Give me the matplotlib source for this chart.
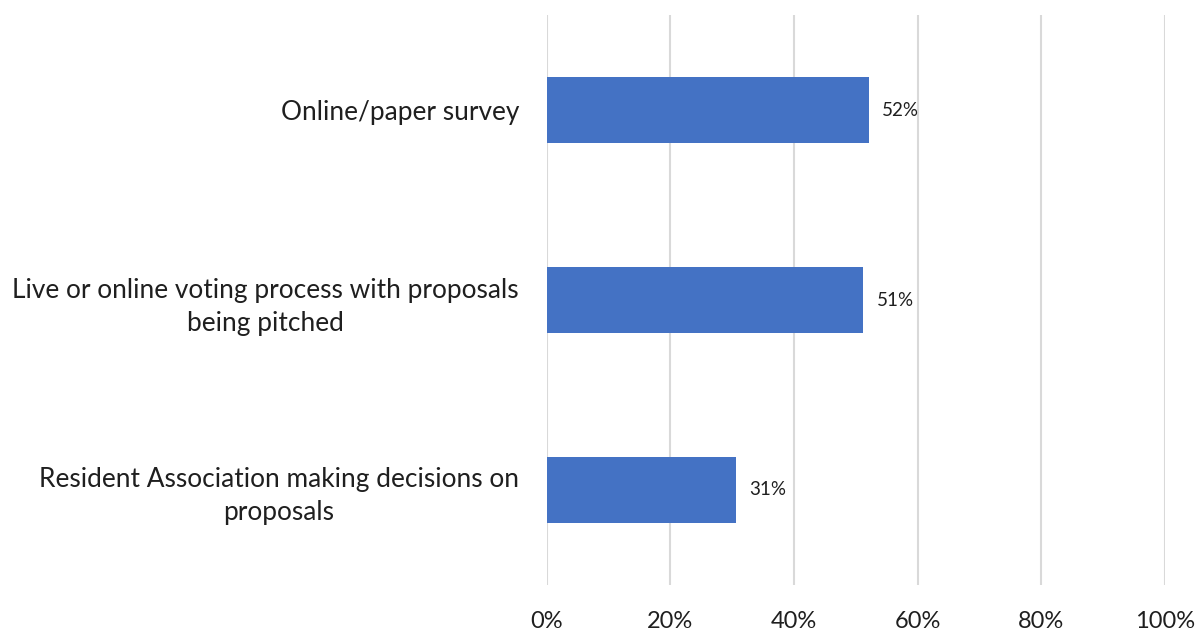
import matplotlib.pyplot as plt
import numpy as np

# Data
categories = [
    "Online/paper survey",
    "Live or online voting process with proposals\nbeing pitched",
    "Resident Association making decisions on\nproposals",
]
shares = [0.521, 0.512, 0.306]
bar_labels = ["52%", "51%", "31%"]
x_ticks = [0, 0.2, 0.4, 0.6, 0.8, 1.0]
x_tick_labels = ["0%", "20%", "40%", "60%", "80%", "100%"]

plt.rcParams['font.family'] = ['Lato', 'DejaVu Sans']
TEXT = "#1f1f1f"

fig = plt.figure(figsize=(11.99, 6.34), dpi=100)
ax = fig.add_axes([0.456, 0.0773, 0.5156, 0.8990])

y = np.arange(len(categories))
bars = ax.barh(y, shares, height=0.35, color="#4472C4", zorder=3)

ax.set_xlim(0, 1.0)
ax.set_ylim(len(categories) - 0.5, -0.5)

ax.set_xticks(x_ticks)
ax.set_xticklabels(x_tick_labels, fontsize=17, color=TEXT)
ax.set_yticks(y)
ax.set_yticklabels(categories, fontsize=18.9, color=TEXT,
                   multialignment="center", linespacing=1.4)
ax.tick_params(axis="x", length=0, pad=19)
ax.tick_params(axis="y", length=0, pad=20)

ax.grid(axis="x", color="#d9d9d9", linewidth=1.5, zorder=0)
for side in ["top", "right", "bottom", "left"]:
    ax.spines[side].set_visible(False)

for bar, lab in zip(bars, bar_labels):
    ax.annotate(lab, (bar.get_width(), bar.get_y() + bar.get_height() / 2),
                xytext=(9.5, 0), textcoords="offset points",
                va="center", ha="left", fontsize=13.5, color=TEXT)

fig.savefig("out.png", dpi=100)
